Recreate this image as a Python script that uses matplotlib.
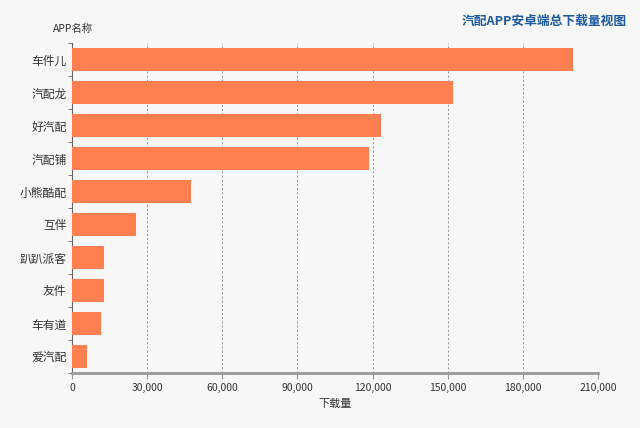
import matplotlib
matplotlib.use("Agg")
import matplotlib.pyplot as plt
from matplotlib.ticker import FuncFormatter, FixedLocator

plt.rcParams['font.family'] = ['Noto Sans CJK SC', 'DejaVu Sans']

apps = ["车件儿", "汽配龙", "好汽配", "汽配铺", "小熊酷配", "互伴", "趴趴派客", "友件", "车有道", "爱汽配"]
downloads = [200000, 152000, 123400, 118600, 47600, 25600, 12800, 12900, 11600, 6000]
xticks = [0, 30000, 60000, 90000, 120000, 150000, 180000, 210000]

bg = "#f7f7f7"
fig = plt.figure(figsize=(6.4, 4.28), dpi=100, facecolor=bg)
ax = fig.add_axes([72/640, 1-373/428, 526/640, 330/428], facecolor=bg)

n = len(apps)
ypos = list(range(n))
ax.barh(ypos, downloads, height=0.7, color="#ff7f50", zorder=3)
ax.set_ylim(n - 0.5, -0.5)
ax.set_xlim(0, 210000)
ax.set_yticks(ypos)
ax.set_yticklabels(apps, fontsize=8.5, color="#333333")
ax.yaxis.set_minor_locator(FixedLocator([i + 0.5 for i in range(-1, n)]))
ax.tick_params(axis='y', which='major', length=0, pad=4)
ax.tick_params(axis='y', which='minor', length=3, color="#666666")

ax.set_xticks(xticks)
ax.xaxis.set_major_formatter(FuncFormatter(lambda v, p: f"{int(v):,}"))
ax.tick_params(axis='x', labelsize=7.5, colors="#333333", length=4, color="#999999")
ax.grid(axis='x', linestyle=(0, (2.5, 2.5)), color="#888888", linewidth=0.6, zorder=0)

for s in ["top", "right"]:
    ax.spines[s].set_visible(False)
ax.spines["left"].set_color("#666666")
ax.spines["left"].set_linewidth(0.8)
ax.spines["bottom"].set_color("#999999")
ax.spines["bottom"].set_linewidth(2)

ax.set_xlabel("下载量", fontsize=8, color="#333333", labelpad=4)
fig.text(53/640, 1-29/428, "APP名称", fontsize=7.5, color="#333333", va="center", ha="left")
fig.text(627/640, 1-21/428, "汽配APP安卓端总下载量视图", fontsize=9.2, fontweight="bold",
         color="#1d5aa0", va="center", ha="right")

fig.savefig("out.png", dpi=100, facecolor=bg)
